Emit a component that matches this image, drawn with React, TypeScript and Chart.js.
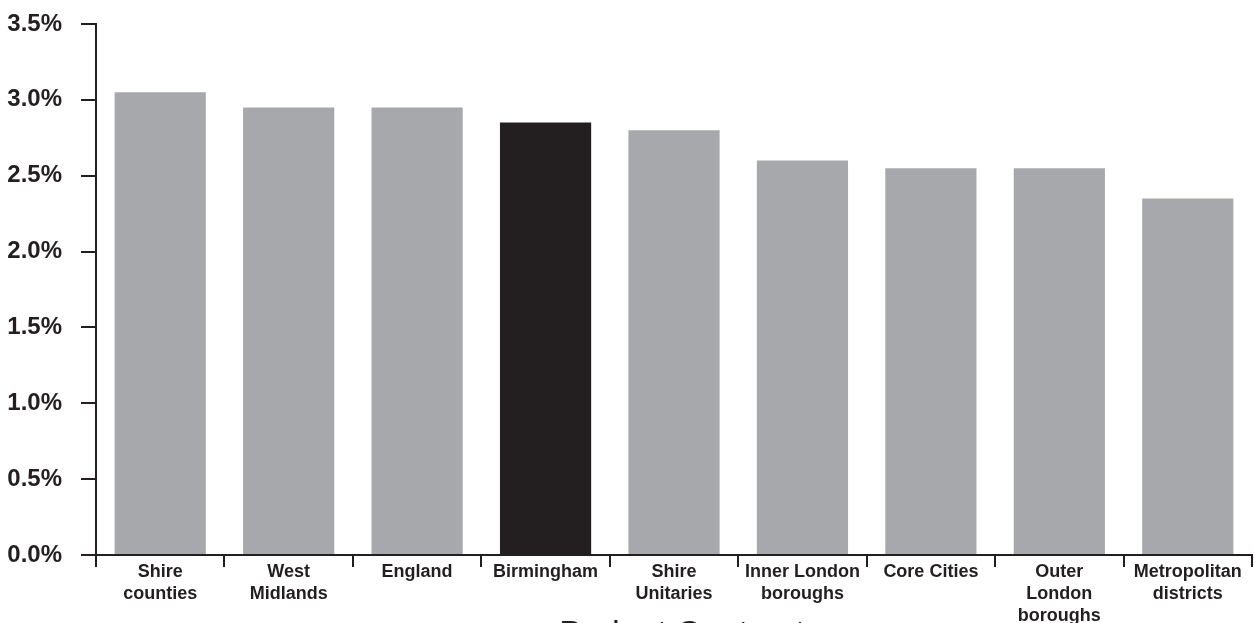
import React, { useEffect, useRef } from "react";
import { Chart, registerables } from "chart.js";

Chart.register(...registerables);

// Categories (multi-line where the label wraps)
const categories: (string | string[])[] = [
  ["Shire", "counties"],
  ["West", "Midlands"],
  "England",
  "Birmingham",
  ["Shire", "Unitaries"],
  ["Inner London", "boroughs"],
  "Core Cities",
  ["Outer", "London", "boroughs"],
  ["Metropolitan", "districts"],
];

// Percentage values per category
const values: number[] = [3.05, 2.95, 2.95, 2.85, 2.8, 2.6, 2.55, 2.55, 2.35];

// Which bar is highlighted
const highlight = "Birmingham";

const axisTitle = "Budget Contract";

const GREY = "#a7a8ab";
const DARK = "#231f20";
const FONT = "'Liberation Sans', Arial, Helvetica, sans-serif";

const bottomTitlePlugin = {
  id: "bottomTitle",
  afterDraw(chart: Chart) {
    const { ctx, chartArea } = chart;
    ctx.save();
    ctx.font = `34px ${FONT}`;
    ctx.fillStyle = DARK;
    ctx.textAlign = "center";
    ctx.textBaseline = "alphabetic";
    ctx.fillText(axisTitle, (chartArea.left + chartArea.right) / 2 + 8, chartArea.bottom + 89);
    ctx.restore();
  },
};

export default function App() {
  const ref = useRef<HTMLCanvasElement | null>(null);

  useEffect(() => {
    if (!ref.current) return;
    const colors = categories.map((c) =>
      (Array.isArray(c) ? c.join(" ") : c) === highlight ? DARK : GREY
    );
    const chart = new Chart(ref.current, {
      type: "bar",
      data: {
        labels: categories,
        datasets: [
          {
            data: values,
            backgroundColor: colors,
            borderWidth: 0,
            categoryPercentage: 1,
            barPercentage: 0.71,
          },
        ],
      },
      plugins: [bottomTitlePlugin],
      options: {
        animation: false,
        responsive: false,
        maintainAspectRatio: false,
        layout: { padding: { top: 24, right: 2, left: 0, bottom: 0 } },
        plugins: {
          legend: { display: false },
          tooltip: { enabled: false },
          title: { display: false },
        },
        scales: {
          x: {
            offset: true,
            grid: {
              offset: true,
              drawOnChartArea: false,
              drawTicks: true,
              tickLength: 12,
              color: DARK,
              lineWidth: 2,
            },
            border: { display: true, color: DARK, width: 2 },
            ticks: {
              autoSkip: false,
              maxRotation: 0,
              minRotation: 0,
              padding: -6,
              color: DARK,
              font: { family: FONT, size: 18, weight: "bold", lineHeight: 1.22 },
            },
            afterFit(scale: any) {
              scale.height = 68;
              scale.paddingLeft = 0;
              scale.paddingRight = 0;
            },
          },
          y: {
            min: 0,
            max: 3.5,
            grid: {
              drawOnChartArea: false,
              drawTicks: true,
              tickLength: 15,
              color: DARK,
              lineWidth: 2,
            },
            border: { display: true, color: DARK, width: 2 },
            ticks: {
              stepSize: 0.5,
              padding: 19,
              color: DARK,
              font: { family: FONT, size: 24, weight: "bold" },
              callback: (v: any) => Number(v).toFixed(1) + "%",
            },
            afterFit(scale: any) {
              scale.width = 96;
              scale.paddingTop = 0;
              scale.paddingBottom = 0;
            },
          },
        },
      },
    });
    return () => chart.destroy();
  }, []);

  return (
    <div
      style={{
        position: "fixed",
        left: 0,
        top: 0,
        width: 1254,
        height: 623,
        overflow: "hidden",
        background: "#fff",
      }}
    >
      <canvas ref={ref} width={1254} height={623} style={{ display: "block" }} />
    </div>
  );
}
